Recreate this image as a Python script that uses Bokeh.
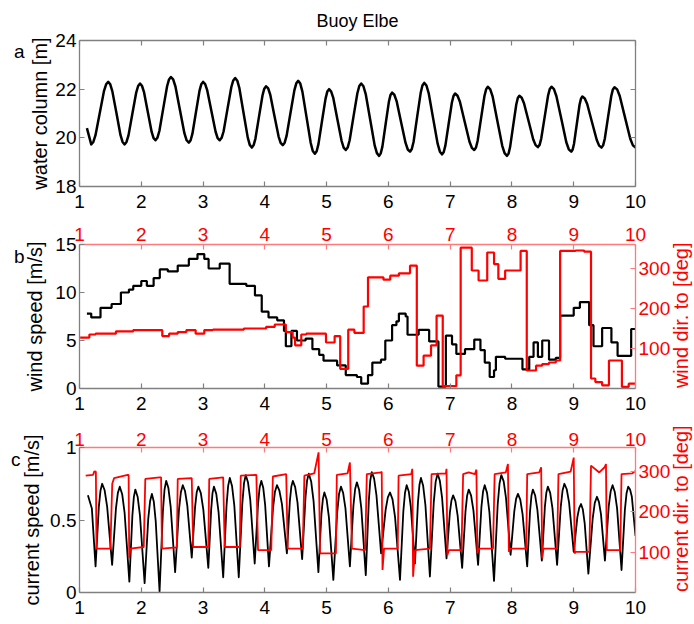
import math
from bokeh.plotting import figure
from bokeh.models import LinearAxis, Range1d
from bokeh.layouts import column
from bokeh.embed import file_html
from bokeh.resources import INLINE

# ---------------- data ----------------
x_ticks = [1, 2, 3, 4, 5, 6, 7, 8, 9, 10]

# panel a: water column [m]
water_t = [1.12, 1.19,
           1.224, 1.259, 1.328, 1.396, 1.431, 1.465,
           1.498, 1.531, 1.598, 1.664, 1.697, 1.73,
           1.761, 1.793, 1.855, 1.918, 1.949, 1.98,
           2.011, 2.043, 2.105, 2.168, 2.199, 2.23,
           2.261, 2.293, 2.355, 2.418, 2.449, 2.48,
           2.516, 2.553, 2.625, 2.698, 2.734, 2.77,
           2.799, 2.828, 2.885, 2.943, 2.971, 3.00,
           3.034, 3.068, 3.135, 3.203, 3.236, 3.27,
           3.301, 3.333, 3.395, 3.458, 3.489, 3.52,
           3.554, 3.588, 3.655, 3.723, 3.756, 3.79,
           3.819, 3.848, 3.905, 3.963, 3.991, 4.02,
           4.054, 4.088, 4.155, 4.223, 4.256, 4.29,
           4.321, 4.353, 4.415, 4.478, 4.509, 4.54,
           4.574, 4.608, 4.675, 4.743, 4.776, 4.81,
           4.839, 4.868, 4.925, 4.983, 5.011, 5.04,
           5.074, 5.108, 5.175, 5.243, 5.276, 5.31,
           5.341, 5.373, 5.435, 5.498, 5.529, 5.56,
           5.596, 5.633, 5.705, 5.778, 5.814, 5.85,
           5.876, 5.903, 5.955, 6.008, 6.034, 6.06,
           6.096, 6.133, 6.205, 6.278, 6.314, 6.35,
           6.379, 6.408, 6.465, 6.523, 6.551, 6.58,
           6.616, 6.653, 6.725, 6.798, 6.834, 6.87,
           6.896, 6.923, 6.975, 7.028, 7.054, 7.08,
           7.119, 7.158, 7.235, 7.313, 7.351, 7.39,
           7.418, 7.445, 7.50, 7.555, 7.583, 7.61,
           7.649, 7.688, 7.765, 7.843, 7.881, 7.92,
           7.945, 7.97, 8.02, 8.07, 8.095, 8.12,
           8.158, 8.195, 8.27, 8.345, 8.383, 8.42,
           8.448, 8.475, 8.53, 8.585, 8.613, 8.64,
           8.68, 8.72, 8.80, 8.88, 8.92, 8.96,
           8.983, 9.005, 9.05, 9.095, 9.118, 9.14,
           9.179, 9.218, 9.295, 9.373, 9.411, 9.45,
           9.476, 9.503, 9.555, 9.608, 9.634, 9.66,
           9.703, 9.745, 9.83, 9.915, 9.958, 10.0]
water_level = [20.40, 19.73,
               19.83, 20.11, 21.02, 21.92, 22.20, 22.30,
               22.20, 21.92, 21.02, 20.11, 19.83, 19.73,
               19.83, 20.10, 20.98, 21.86, 22.13, 22.23,
               22.14, 21.89, 21.07, 20.24, 19.99, 19.90,
               20.00, 20.28, 21.20, 22.12, 22.40, 22.50,
               22.40, 22.11, 21.15, 20.19, 19.90, 19.80,
               19.90, 20.17, 21.05, 21.94, 22.20, 22.30,
               22.21, 21.95, 21.10, 20.25, 19.99, 19.90,
               20.00, 20.27, 21.18, 22.09, 22.36, 22.46,
               22.35, 22.04, 21.03, 20.02, 19.71, 19.60,
               19.70, 19.97, 20.86, 21.75, 22.02, 22.12,
               22.03, 21.77, 20.91, 20.05, 19.79, 19.70,
               19.80, 20.09, 21.02, 21.95, 22.24, 22.34,
               22.23, 21.90, 20.85, 19.79, 19.46, 19.35,
               19.45, 19.74, 20.68, 21.61, 21.90, 22.00,
               21.90, 21.64, 20.75, 19.87, 19.60, 19.50,
               19.60, 19.90, 20.87, 21.83, 22.13, 22.23,
               22.12, 21.80, 20.75, 19.69, 19.37, 19.26,
               19.36, 19.64, 20.56, 21.48, 21.76, 21.86,
               21.77, 21.51, 20.65, 19.79, 19.52, 19.43,
               19.54, 19.84, 20.85, 21.85, 22.15, 22.26,
               22.15, 21.83, 20.79, 19.75, 19.43, 19.32,
               19.42, 19.69, 20.57, 21.45, 21.72, 21.82,
               21.73, 21.48, 20.66, 19.84, 19.59, 19.50,
               19.60, 19.88, 20.80, 21.72, 22.00, 22.10,
               21.99, 21.69, 20.68, 19.67, 19.37, 19.26,
               19.35, 19.62, 20.50, 21.37, 21.64, 21.73,
               21.65, 21.42, 20.68, 19.93, 19.70, 19.62,
               19.71, 19.98, 20.86, 21.74, 22.01, 22.10,
               22.00, 21.71, 20.77, 19.82, 19.53, 19.43,
               19.52, 19.76, 20.57, 21.37, 21.61, 21.70,
               21.62, 21.39, 20.65, 19.91, 19.68, 19.60,
               19.69, 19.96, 20.84, 21.72, 21.99, 22.08,
               21.99, 21.72, 20.84, 19.96, 19.69, 19.60]

# panel b: wind speed [m/s] (step starts) and wind direction [deg]
wind_t = [1.12, 1.19, 1.34, 1.52, 1.67, 1.80, 1.87, 2.00, 2.09, 2.20,
          2.30, 2.43, 2.59, 2.77, 2.91, 3.02, 3.09, 3.27, 3.43, 3.70,
          3.84, 3.95, 4.06, 4.20, 4.31, 4.34, 4.43, 4.52, 4.66, 4.77,
          4.88, 4.95, 5.17, 5.31, 5.49, 5.56, 5.67, 5.74, 5.88, 5.95,
          6.06, 6.13, 6.17, 6.28, 6.31, 6.49, 6.66, 6.81, 6.93, 7.03,
          7.10, 7.24, 7.39, 7.49, 7.56, 7.64, 7.71, 7.74, 7.89, 8.17,
          8.28, 8.35, 8.42, 8.49, 8.60, 8.71, 8.78, 9.00, 9.10, 9.25,
          9.32, 9.46, 9.61, 9.71, 9.93, 10.0]
wind_speed = [7.8, 7.4, 8.4, 8.8, 10.0, 10.3, 10.7, 11.2, 10.7, 11.5,
              12.4, 12.2, 12.8, 13.5, 14.0, 13.5, 12.5, 13.0, 10.9, 10.7,
              9.7, 8.0, 7.4, 7.1, 6.0, 4.4, 6.0, 5.0, 5.2, 4.1,
              3.5, 2.9, 2.4, 1.4, 1.2, 0.5, 1.4, 2.7, 3.0, 5.0,
              6.6, 7.0, 7.8, 7.5, 5.6, 6.1, 4.9, 0.2, 5.5, 4.6,
              3.6, 4.1, 5.1, 4.0, 2.7, 1.2, 1.9, 3.3, 3.1, 2.0,
              3.3, 4.8, 3.3, 5.0, 3.0, 3.2, 7.6, 8.4, 9.0, 6.6,
              4.4, 6.3, 4.8, 3.4, 6.2, 6.2]
wdir_t = [1.01, 1.16, 1.26, 1.59, 1.87, 2.34, 2.45, 2.59, 2.73, 2.88,
          3.02, 3.16, 3.66, 4.02, 4.16, 4.34, 4.45, 4.49, 4.59, 4.67,
          4.99, 5.13, 5.22, 5.35, 5.45, 5.60, 5.67, 5.92, 6.03, 6.17,
          6.35, 6.46, 6.57, 6.69, 6.78, 6.88, 7.10, 7.17, 7.35, 7.46,
          7.60, 7.71, 7.78, 7.89, 8.14, 8.24, 8.39, 8.49, 8.60, 8.71,
          8.78, 9.03, 9.17, 9.28, 9.35, 9.46, 9.57, 9.78, 9.89, 10.0]
wind_dir = [127, 135, 137, 143, 146, 131, 137, 141, 146, 137,
            146, 147, 150, 154, 160, 141, 127, 108, 135, 137,
            115, 131, 49, 147, 139, 205, 278, 272, 282, 288,
            307, 57, 82, 108, 182, 6, 33, 352, 295, 270,
            340, 311, 274, 295, 344, 45, 57, 61, 65, 70,
            344, 345, 342, 25, 16, 8, 70, 4, 12, 12]

# panel c: current speed [m/s] and current direction [deg]
cur_t = [1.136, 1.20, 1.26,
         1.313, 1.340, 1.367, 1.407, 1.448, 1.528,
         1.590, 1.621, 1.652, 1.691, 1.730, 1.807,
         1.856, 1.880, 1.904, 1.942, 1.979, 2.054,
         2.113, 2.143, 2.172, 2.203, 2.234, 2.296,
         2.350, 2.376, 2.403, 2.439, 2.476, 2.548,
         2.610, 2.641, 2.672, 2.708, 2.745, 2.817,
         2.871, 2.897, 2.924, 2.964, 3.005, 3.085,
         3.131, 3.153, 3.176, 3.214, 3.251, 3.326,
         3.380, 3.406, 3.433, 3.469, 3.506, 3.578,
         3.635, 3.663, 3.691, 3.727, 3.764, 3.836,
         3.890, 3.916, 3.943, 3.974, 4.005, 4.067,
         4.132, 4.164, 4.196, 4.236, 4.277, 4.357,
         4.405, 4.429, 4.453, 4.491, 4.529, 4.604,
         4.658, 4.684, 4.711, 4.750, 4.789, 4.867,
         4.916, 4.940, 4.964, 5.000, 5.037, 5.109,
         5.171, 5.201, 5.232, 5.268, 5.305, 5.377,
         5.434, 5.462, 5.490, 5.526, 5.562, 5.634,
         5.683, 5.707, 5.731, 5.769, 5.807, 5.882,
         5.955, 5.991, 6.027, 6.067, 6.108, 6.188,
         6.242, 6.269, 6.296, 6.330, 6.363, 6.430,
         6.479, 6.503, 6.527, 6.563, 6.600, 6.672,
         6.734, 6.765, 6.796, 6.832, 6.869, 6.941,
         6.995, 7.021, 7.048, 7.085, 7.121, 7.194,
         7.248, 7.274, 7.301, 7.339, 7.377, 7.452,
         7.506, 7.532, 7.559, 7.597, 7.635, 7.710,
         7.769, 7.799, 7.828, 7.866, 7.903, 7.978,
         8.038, 8.067, 8.097, 8.135, 8.172, 8.247,
         8.293, 8.316, 8.339, 8.375, 8.412, 8.484,
         8.533, 8.557, 8.581, 8.619, 8.656, 8.731,
         8.790, 8.820, 8.849, 8.887, 8.925, 9.000,
         9.059, 9.089, 9.118, 9.148, 9.178, 9.237,
         9.307, 9.341, 9.376, 9.408, 9.441, 9.505,
         9.567, 9.598, 9.629, 9.665, 9.702, 9.774,
         9.828, 9.855, 9.882, 9.912, 9.941, 10.0]
cur_speed = [0.67, 0.58, 0.18,
             0.59, 0.704, 0.75, 0.705, 0.59, 0.19,
             0.58, 0.687, 0.73, 0.678, 0.55, 0.075,
             0.53, 0.659, 0.71, 0.658, 0.53, 0.064,
             0.51, 0.631, 0.68, 0.626, 0.49, 0.007,
             0.56, 0.709, 0.77, 0.72, 0.59, 0.14,
             0.57, 0.692, 0.74, 0.70, 0.60, 0.24,
             0.59, 0.691, 0.73, 0.685, 0.57, 0.17,
             0.57, 0.685, 0.73, 0.68, 0.555, 0.105,
             0.60, 0.735, 0.79, 0.735, 0.60, 0.105,
             0.61, 0.754, 0.81, 0.761, 0.64, 0.20,
             0.61, 0.724, 0.77, 0.723, 0.605, 0.18,
             0.58, 0.695, 0.74, 0.702, 0.61, 0.27,
             0.63, 0.73, 0.77, 0.727, 0.62, 0.23,
             0.655, 0.773, 0.82, 0.766, 0.63, 0.14,
             0.54, 0.646, 0.69, 0.642, 0.52, 0.087,
             0.55, 0.679, 0.73, 0.686, 0.58, 0.18,
             0.60, 0.714, 0.76, 0.709, 0.58, 0.12,
             0.63, 0.773, 0.83, 0.785, 0.67, 0.27,
             0.57, 0.656, 0.69, 0.642, 0.52, 0.087,
             0.56, 0.688, 0.74, 0.697, 0.59, 0.20,
             0.625, 0.743, 0.79, 0.736, 0.60, 0.11,
             0.62, 0.763, 0.82, 0.773, 0.655, 0.235,
             0.55, 0.635, 0.67, 0.63, 0.53, 0.17,
             0.56, 0.667, 0.71, 0.668, 0.565, 0.19,
             0.59, 0.696, 0.74, 0.687, 0.555, 0.08,
             0.605, 0.752, 0.81, 0.766, 0.655, 0.26,
             0.56, 0.646, 0.68, 0.64, 0.54, 0.18,
             0.56, 0.668, 0.71, 0.671, 0.57, 0.22,
             0.59, 0.689, 0.73, 0.687, 0.58, 0.19,
             0.59, 0.705, 0.75, 0.712, 0.62, 0.28,
             0.52, 0.584, 0.61, 0.572, 0.475, 0.13,
             0.51, 0.618, 0.66, 0.625, 0.54, 0.22,
             0.595, 0.698, 0.74, 0.693, 0.58, 0.155,
             0.57, 0.684, 0.73, 0.71, 0.66, 0.39]
cdir_t = [1.10, 1.22, 1.24, 1.265, 1.275, 1.50, 1.53, 1.56, 1.78, 1.795,
          1.805, 1.82, 2.04, 2.065, 2.30, 2.32, 2.335, 2.575, 2.59, 2.817,
          2.84, 3.085, 3.10, 3.326, 3.35, 3.595, 3.61, 3.863, 3.89, 4.104,
          4.13, 4.346, 4.37, 4.614, 4.64, 4.80, 4.87, 4.894, 5.151, 5.165,
          5.34, 5.377, 5.41, 5.624, 5.651, 5.88, 5.892, 5.905, 5.93, 6.151,
          6.165, 6.37, 6.387, 6.40, 6.43, 6.672, 6.699, 6.93, 6.941, 6.955,
          6.98, 7.183, 7.21, 7.30, 7.40, 7.425, 7.44, 7.46, 7.694, 7.72,
          7.90, 7.935, 7.95, 7.97, 8.231, 8.247, 8.44, 8.473, 8.49, 8.51,
          8.731, 8.753, 8.95, 9.0, 9.015, 9.03, 9.253, 9.28, 9.414, 9.50,
          9.522, 9.535, 9.753, 9.774, 9.95, 10.0]
cur_dir = [290, 292, 301, 300, 109, 109, 270, 284, 292, 292,
           85, 109, 113, 282, 286, 286, 109, 112, 282, 284,
           113, 113, 282, 286, 113, 113, 290, 292, 105, 105,
           288, 294, 109, 109, 290, 296, 348, 97, 97, 292,
           296, 323, 109, 105, 294, 298, 300, 56, 109, 109,
           290, 294, 307, 39, 105, 109, 294, 296, 307, 93,
           105, 105, 294, 298, 294, 305, 97, 109, 109, 294,
           298, 319, 101, 109, 109, 294, 298, 311, 85, 109,
           109, 294, 300, 335, 97, 101, 101, 315, 298, 311,
           319, 105, 105, 294, 296, 302]

# ---------------- styling ----------------
FONT = "Liberation Sans"
TICK_FS = "19px"
LAB_FS = "20px"
GRAY = "#808080"
RED = "#ff0000"
LRED = "#ff7a7a"


def style_axis(ax, line_color, label_color, standoff, show_labels=True):
    ax.axis_line_color = line_color
    ax.axis_line_width = 1.3
    ax.major_tick_line_color = line_color
    ax.major_tick_line_width = 1.2
    ax.major_tick_in = 5
    ax.major_tick_out = 0
    ax.minor_tick_line_color = None
    ax.major_label_text_font = FONT
    ax.major_label_text_font_size = TICK_FS if show_labels else "1px"
    ax.major_label_text_color = label_color if show_labels else None
    ax.major_label_standoff = standoff
    ax.axis_label_text_font = FONT
    ax.axis_label_text_font_size = LAB_FS
    ax.axis_label_text_font_style = "normal"
    ax.axis_label_text_color = label_color


def base_fig(y0, y1, fh, top, bottom):
    p = figure(frame_width=556, frame_height=fh,
               x_range=Range1d(1, 10), y_range=Range1d(y0, y1),
               min_border_left=79, min_border_right=59,
               min_border_top=top, min_border_bottom=bottom,
               output_backend="svg", toolbar_location=None,
               background_fill_color="white", border_fill_color="white")
    p.grid.visible = False
    p.outline_line_color = None
    p.xaxis.ticker = x_ticks
    style_axis(p.xaxis[0], GRAY, "black", 8)
    style_axis(p.yaxis[0], GRAY, "black", 3)
    return p


def panel_letter(p, y, txt, standoff):
    # outer left axis with one labelled position that carries the panel letter
    ax = LinearAxis(ticker=[y], major_label_overrides={y: txt})
    style_axis(ax, None, "black", standoff)
    ax.major_tick_line_color = None
    p.add_layout(ax, "left")


def right_title(p, range_name, y, txt, standoff):
    # outer right axis whose single label is the red, upward-reading axis title
    ax = LinearAxis(y_range_name=range_name, ticker=[y], major_label_overrides={y: txt},
                    major_label_orientation=math.pi / 2)
    style_axis(ax, None, RED, standoff)
    ax.major_tick_line_color = None
    ax.major_label_text_font_size = LAB_FS
    p.add_layout(ax, "right")


# ---------------- panel a ----------------
pa = base_fig(18, 24, 146, 40, 31)
pa.yaxis.ticker = [18, 20, 22, 24]
pa.yaxis.axis_label = "water column [m]"
pa.yaxis[0].axis_label_standoff = 1
top_a = LinearAxis(ticker=x_ticks)
style_axis(top_a, GRAY, "black", 0, show_labels=False)
pa.add_layout(top_a, "above")
# the figure title sits on an outer top axis with one labelled position
title_ax = LinearAxis(ticker=[5.5], major_label_overrides={5.5: "Buoy Elbe"})
style_axis(title_ax, None, "black", 10)
title_ax.major_tick_line_color = None
title_ax.major_label_text_font_size = "18px"
pa.add_layout(title_ax, "above")
right_a = LinearAxis(ticker=[18, 20, 22, 24])
style_axis(right_a, GRAY, "black", 0, show_labels=False)
pa.add_layout(right_a, "right")
pa.line(water_t, water_level, line_color="black", line_width=2.5, line_join="round")
panel_letter(pa, 23.55, "a", 2)

# ---------------- panel b ----------------
pb = base_fig(0, 15, 144, 27, 31)
pb.yaxis.ticker = [0, 5, 10, 15]
pb.yaxis.axis_label = "wind speed [m/s]"
pb.yaxis[0].axis_label_standoff = 6
pb.extra_y_ranges = {"dir": Range1d(0, 360)}
top_b = LinearAxis(ticker=x_ticks)
style_axis(top_b, LRED, RED, 4)
pb.add_layout(top_b, "above")
right_b = LinearAxis(y_range_name="dir", ticker=[100, 200, 300])
style_axis(right_b, LRED, RED, 3)
pb.add_layout(right_b, "right")
right_title(pb, "dir", 1, "wind dir. to [deg]", 8)
pb.step(wind_t, wind_speed, mode="after", line_color="black", line_width=2.2)
pb.step(wdir_t, wind_dir, mode="after", line_color=RED, line_width=2.2, y_range_name="dir")
panel_letter(pb, 13.8, "b", -3)

# ---------------- panel c ----------------
pc = base_fig(0, 1, 145, 28, 32)
pc.yaxis.ticker = [0, 0.5, 1]
pc.yaxis.major_label_overrides = {0: "0", 0.5: "0.5", 1: "1"}
pc.yaxis.axis_label = "current speed [m/s]"
pc.yaxis[0].axis_label_standoff = 4
pc.extra_y_ranges = {"dir": Range1d(0, 360)}
top_c = LinearAxis(ticker=x_ticks)
style_axis(top_c, LRED, RED, 2)
pc.add_layout(top_c, "above")
right_c = LinearAxis(y_range_name="dir", ticker=[100, 200, 300])
style_axis(right_c, LRED, RED, 3)
pc.add_layout(right_c, "right")
right_title(pc, "dir", 1, "current dir. to [deg]", 8)
pc.line(cur_t, cur_speed, line_color="black", line_width=1.8, line_join="round")
pc.line(cdir_t, cur_dir, line_color=RED, line_width=1.8, y_range_name="dir")
panel_letter(pc, 0.917, "c", -2)

layout = column(pa, pb, pc, spacing=0)
open("out.html", "w").write(file_html(layout, INLINE))
